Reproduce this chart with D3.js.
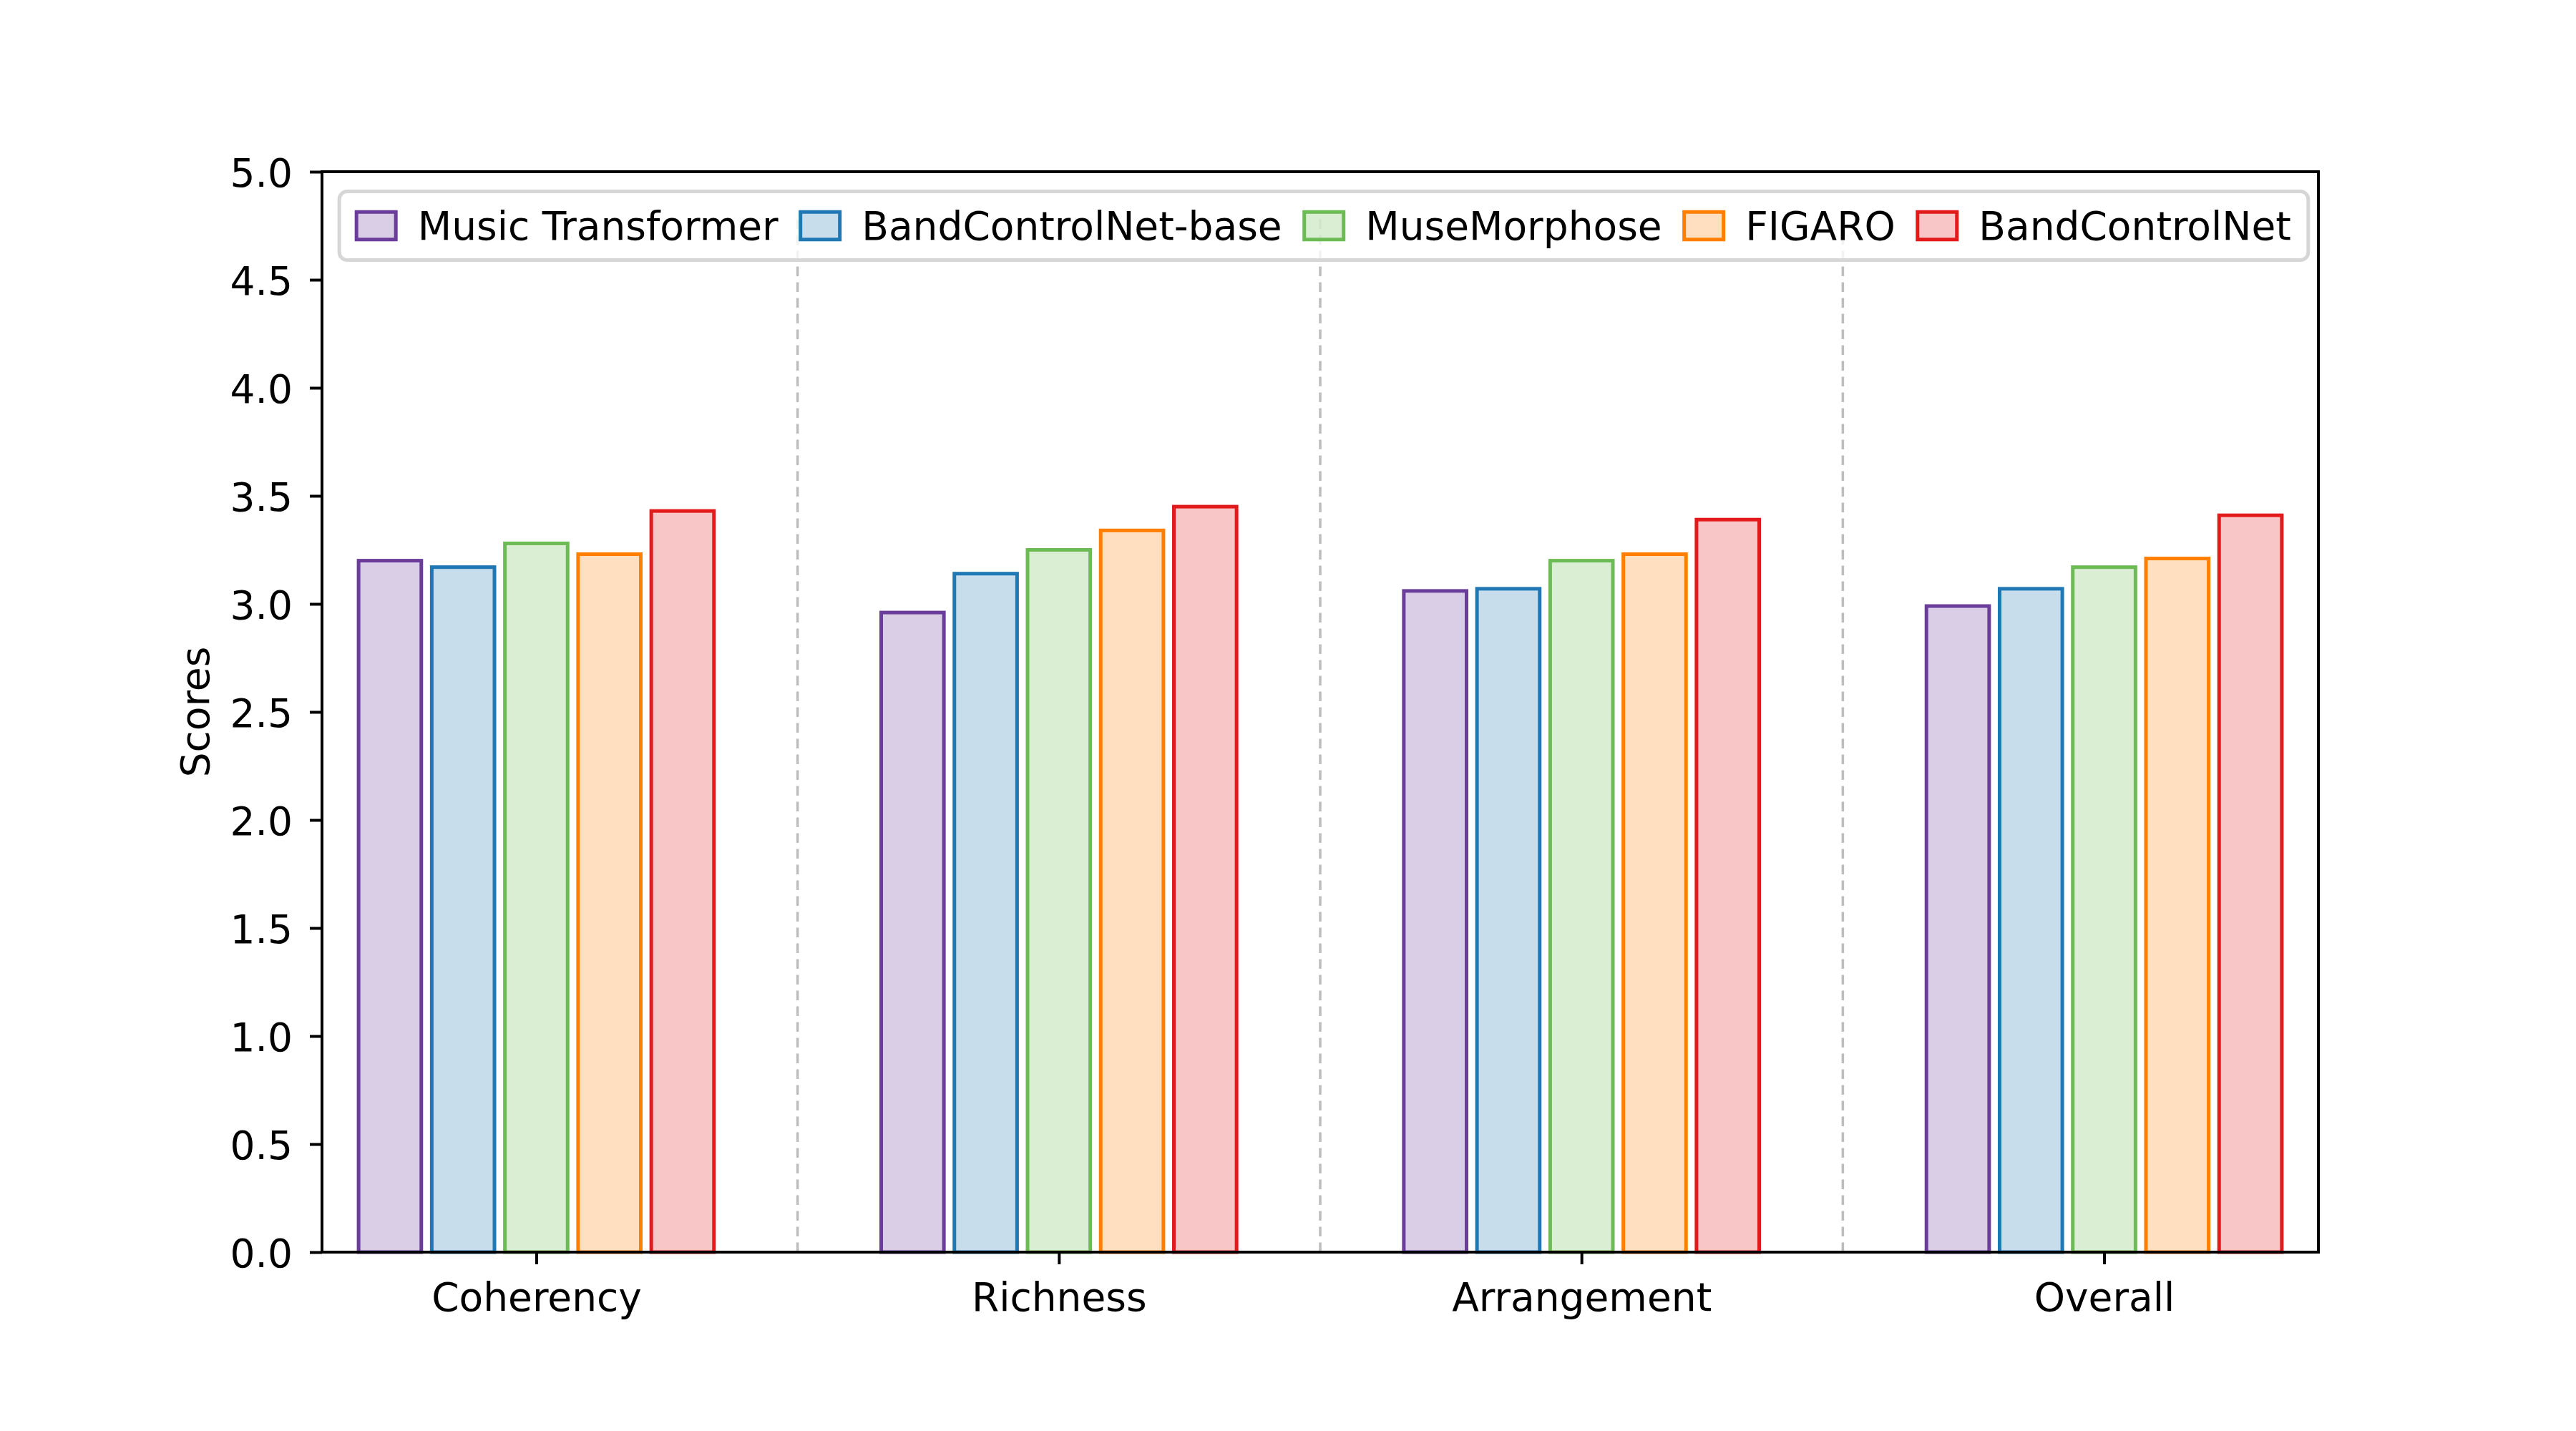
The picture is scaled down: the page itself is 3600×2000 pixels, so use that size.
<!DOCTYPE html>
<html>
<head>
<meta charset="utf-8">
<script src="https://cdn.jsdelivr.net/npm/d3@7"></script>
<style>
	body { margin: 0; background: #ffffff; }
	svg text { font-family: "DejaVu Sans", sans-serif; fill: #000000; }
</style>
</head>
<body>
<div id="chart"></div>
<script>
// data
var categories = ["Coherency", "Richness", "Arrangement", "Overall"];
var models = ["Music Transformer", "BandControlNet-base", "MuseMorphose", "FIGARO", "BandControlNet"];

var musicTransformer = [3.20, 2.96, 3.06, 2.99];
var bandControlNetBase = [3.17, 3.14, 3.07, 3.07];
var museMorphose = [3.28, 3.25, 3.20, 3.17];
var figaro = [3.23, 3.34, 3.23, 3.21];
var bandControlNet = [3.43, 3.45, 3.39, 3.41];

var yTicks = [0, 0.5, 1, 1.5, 2, 2.5, 3, 3.5, 4, 4.5, 5];
var yLabel = "Scores";

var edgeColors = ["#6a3d9a", "#1f78b4", "#6cbb54", "#ff7f00", "#e31a1c"];

var seriesValues = [musicTransformer, bandControlNetBase, museMorphose, figaro, bandControlNet];

var width = 3600, height = 2000;
var margin = { top: 240, right: 360, bottom: 250, left: 450 };
var innerW = width - margin.left - margin.right;
var innerH = height - margin.top - margin.bottom;
var fontSize = 55;

var svg = d3.select("#chart").append("svg")
	.attr("width", width)
	.attr("height", height);

var g = svg.append("g")
	.attr("transform", "translate(" + margin.left + "," + margin.top + ")");

var x = d3.scalePoint()
	.domain(categories)
	.range([0, innerW])
	.padding(0.41);

var step = x.step();

// each model gets a 0.14 slot, bars 0.12 wide
var xInner = d3.scaleBand()
	.domain(models)
	.range([-2.5 * 0.14 * step, 2.5 * 0.14 * step])
	.paddingInner(1 / 7)
	.paddingOuter(1 / 14);

var y = d3.scaleLinear()
	.domain([0, 5])
	.range([innerH, 0]);

// dashed separators between groups
var separatorTop = 4.8;
var seps = d3.range(categories.length - 1).map(function(i) {
	return (x(categories[i]) + x(categories[i + 1])) / 2;
});

g.append("g").selectAll("line")
	.data(seps)
	.enter()
	.append("line")
	.attr("x1", function(d) { return d; })
	.attr("x2", function(d) { return d; })
	.attr("y1", y(0))
	.attr("y2", y(separatorTop))
	.style("stroke", "#bdbdbd")
	.style("stroke-width", 3.5)
	.style("stroke-dasharray", "13.5,8.5");

// bars
var barData = [];
models.forEach(function(m, si) {
	categories.forEach(function(c, ci) {
		barData.push({ model: m, cat: c, value: seriesValues[si][ci], color: edgeColors[si] });
	});
});

g.append("g").selectAll("rect")
	.data(barData)
	.enter()
	.append("rect")
	.attr("x", function(d) { return x(d.cat) + xInner(d.model); })
	.attr("y", function(d) { return y(d.value); })
	.attr("width", xInner.bandwidth())
	.attr("height", function(d) { return y(0) - y(d.value); })
	.style("fill", function(d) { return d.color; })
	.style("fill-opacity", 0.25)
	.style("stroke", function(d) { return d.color; })
	.style("stroke-width", 5);

// axes
var yAxis = d3.axisLeft(y)
	.tickValues(yTicks)
	.tickFormat(d3.format(".1f"))
	.tickSize(17)
	.tickPadding(24);

var gy = g.append("g")
	.attr("class", "yaxis")
	.call(yAxis);

var xAxis = d3.axisBottom(x)
	.tickSize(17)
	.tickPadding(26);

var gx = g.append("g")
	.attr("class", "xaxis")
	.attr("transform", "translate(0," + innerH + ")")
	.call(xAxis);

[gy, gx].forEach(function(ax) {
	ax.select(".domain").remove();
	ax.selectAll(".tick line").style("stroke", "#000").style("stroke-width", 4);
	ax.selectAll(".tick text")
		.style("font-size", fontSize + "px")
		.style("font-family", "'DejaVu Sans', sans-serif")
		.attr("fill", "#000");
});
gy.selectAll(".tick text").attr("dy", "0.38em");

// spines
g.append("rect")
	.attr("x", 0)
	.attr("y", 0)
	.attr("width", innerW)
	.attr("height", innerH)
	.style("fill", "none")
	.style("stroke", "#000")
	.style("stroke-width", 4);

svg.append("text")
	.attr("transform", "translate(292," + (margin.top + innerH / 2) + ") rotate(-90)")
	.attr("text-anchor", "middle")
	.style("font-size", fontSize + "px")
	.text(yLabel);

// legend, one row, upper center
var legend = g.append("g").attr("class", "legend");
var frame = legend.append("rect");

var patchW = 55, patchH = 38.5, textPad = 30.5, colSpace = 31, borderPad = 24;
var items = legend.selectAll("g.item")
	.data(models)
	.enter()
	.append("g")
	.attr("class", "item");

items.append("rect")
	.attr("width", patchW)
	.attr("height", patchH)
	.attr("y", -patchH / 2)
	.style("fill", function(d, i) { return edgeColors[i]; })
	.style("fill-opacity", 0.25)
	.style("stroke", function(d, i) { return edgeColors[i]; })
	.style("stroke-width", 5);

items.append("text")
	.attr("x", patchW + textPad)
	.attr("dy", "0.35em")
	.style("font-size", fontSize + "px")
	.text(function(d) { return d; });

var cursor = borderPad;
items.each(function() {
	var tw = d3.select(this).select("text").node().getComputedTextLength();
	d3.select(this).attr("transform", "translate(" + cursor + ",0)");
	cursor += patchW + textPad + tw + colSpace;
});
var legendW = cursor - colSpace + borderPad;
var legendH = 96;
var legendTop = 27.5;

items.attr("transform", function() {
	var t = d3.select(this).attr("transform");
	return t.replace(",0)", "," + (legendTop + legendH / 2) + ")");
});

legend.attr("transform", "translate(" + (innerW / 2 + 5 - legendW / 2) + ",0)");

frame.attr("x", 0)
	.attr("y", legendTop)
	.attr("width", legendW)
	.attr("height", legendH)
	.attr("rx", 11)
	.style("fill", "#ffffff")
	.style("fill-opacity", 0.8)
	.style("stroke", "#d6d6d6")
	.style("stroke-width", 5);
</script>
</body>
</html>
